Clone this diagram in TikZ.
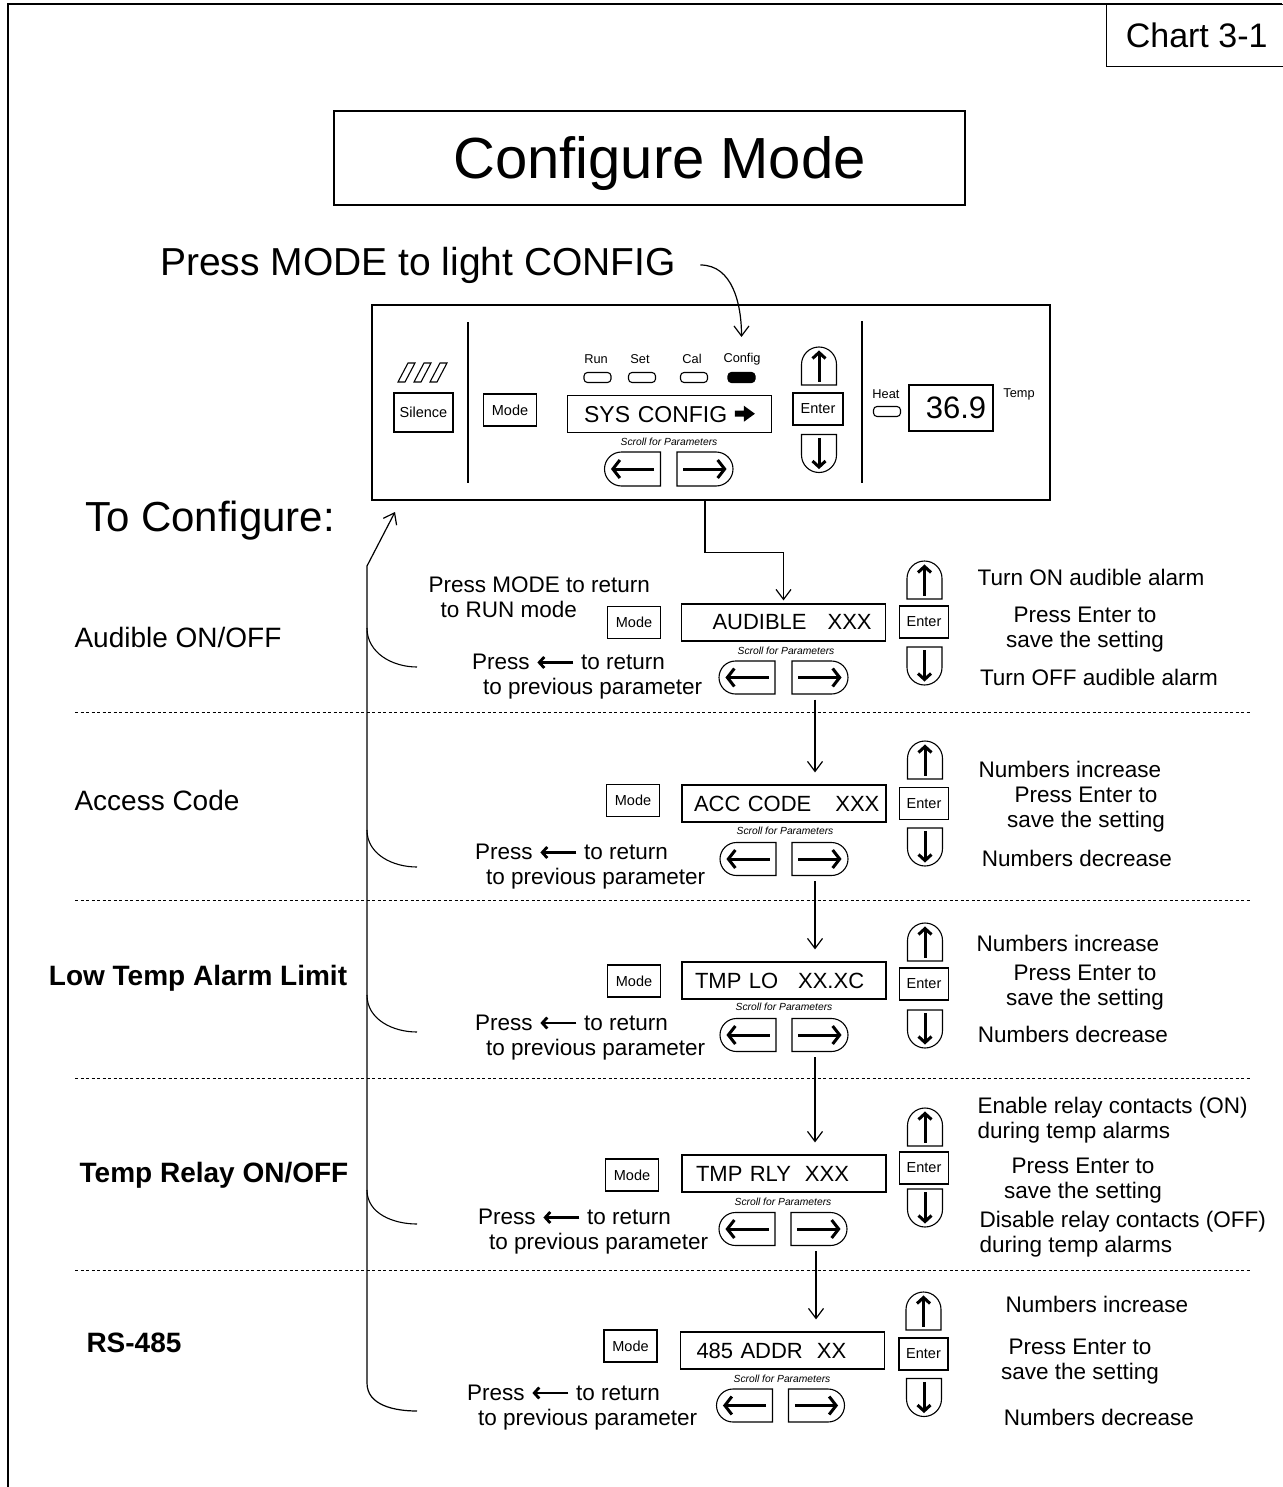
\documentclass[tikz,border=0pt]{standalone}
\usepackage{fontspec}
\setmainfont{Liberation Sans}
\usetikzlibrary{
    arrows.meta,
    positioning,
    shapes.misc,
    calc
}

% thick arrow inside the "Press <- to return" notes
\newcommand{\backarrow}{\tikz[baseline=-0.33em]\draw[line width=2.8pt,-{Straight Barb[length=5pt,width=11pt]}] (36pt,0pt) -- (0pt,0pt);}
% solid arrow after SYS CONFIG
\newcommand{\sysarrow}{\tikz[baseline=-0.36em]\fill (0pt,-3pt) -- (9pt,-3pt) -- (9pt,-8pt) -- (20pt,0pt) -- (9pt,8pt) -- (9pt,3pt) -- (0pt,3pt) -- cycle;}

\begin{document}
\begin{tikzpicture}[
        x=1pt, y=-1pt, line width=1.1pt,
        keybox/.style={draw, inner sep=0pt, font=\fontsize{14.5}{16}\selectfont},
        modekey/.style={keybox, minimum width=53pt, minimum height=32pt},
        enterkey/.style={keybox, minimum width=49pt, minimum height=32pt},
        display/.style={draw, line width=1.2pt, minimum width=204pt, minimum height=37pt, inner xsep=2pt, inner ysep=0pt, text width=200pt, align=left, font=\fontsize{22}{24}\selectfont},
        scroll/.style={inner sep=0pt, font=\fontsize{10.3}{12}\selectfont\itshape},
        lkey/.style={draw, rounded rectangle, rounded rectangle east arc=none, minimum width=56pt, minimum height=33pt, inner sep=0pt},
        rkey/.style={draw, rounded rectangle, rounded rectangle west arc=none, minimum width=56pt, minimum height=33pt, inner sep=0pt},
        ukey/.style={draw, rounded rectangle, rounded rectangle west arc=none, rotate=90, minimum width=38pt, minimum height=35pt, inner sep=0pt},
        dkey/.style={draw, rounded rectangle, rounded rectangle east arc=none, rotate=90, minimum width=38pt, minimum height=35pt, inner sep=0pt},
        harrow/.style={line width=3pt, -{Straight Barb[length=7pt,width=18pt]}, shorten <=7pt, shorten >=7pt},
        varrow/.style={line width=3pt, -{Straight Barb[length=6pt,width=13pt]}, shorten <=4pt, shorten >=4pt},
        led/.style={draw, rounded corners=3.5pt, minimum width=27pt, minimum height=10pt, inner sep=0pt},
        ledlabel/.style={inner sep=0pt, font=\fontsize{12.8}{14}\selectfont},
        note/.style={inner sep=0pt, align=center, font=\fontsize{22.5}{25}\selectfont},
        rowlabel/.style={inner sep=0pt, font=\fontsize{28}{30}\selectfont},
        flow/.style={line width=1.2pt, -{Straight Barb[length=10pt,width=15pt]}},
        sepline/.style={line width=1pt, dash pattern=on 3pt off 2.5pt}
    ]
        \useasboundingbox (0,0) rectangle (1282,1487);

        % Page frame and tag
        \draw[line width=1.3pt] (8,1487) -- (8,4) -- (1282,4);
        \node[draw, line width=1.3pt, anchor=north west, minimum width=180pt, minimum height=62pt, inner sep=0pt, font=\fontsize{34}{36}\selectfont] (chart) at (1106,4) {Chart 3-1};

        % Title
        \node[draw, minimum width=631pt, minimum height=94pt, text depth=2pt, font=\fontsize{58}{60}\selectfont] (title) at (649.5,158) {\hspace*{20pt}Configure Mode};
        \node[inner sep=0pt, font=\fontsize{39}{40}\selectfont] (lighttext) at (418,265) {Press MODE to light CONFIG};
        \node[inner sep=0pt, font=\fontsize{42}{44}\selectfont] (toconf) at (210,521) {To Configure:};

        % Front panel
        \node[draw, line width=1.5pt, minimum width=678pt, minimum height=195pt] (panel) at (711,402.5) {};
        \draw (468,322) -- (468,483);
        \draw (862,321) -- (862,483);
        \draw (398,382) -- ++(7,0) -- ++(10,-19) -- ++(-7,0) -- cycle;
        \draw (414,382) -- ++(7,0) -- ++(10,-19) -- ++(-7,0) -- cycle;
        \draw (430,382) -- ++(7,0) -- ++(10,-19) -- ++(-7,0) -- cycle;
        \node[modekey, minimum width=59pt, minimum height=39pt] (silence) at (423.5,412.5) {Silence};
        \node[modekey] (pmode) at (510,410) {Mode};

        \node[ledlabel] (runlbl) at (596,359) {Run};
        \node[led] (runled) at (597.5,377.5) {};
        \node[ledlabel] (setlbl) at (640,359) {Set};
        \node[led] (setled) at (642,377.5) {};
        \node[ledlabel] (callbl) at (692,359) {Cal};
        \node[led] (called) at (694,377.5) {};
        \node[ledlabel] (cfglbl) at (742,359) {Config};
        \node[led, fill=black] (cfgled) at (741.5,377.5) {};

        \node[display, align=center, font=\fontsize{23}{24}\selectfont] (sysdisp) at (669.5,414) {SYS CONFIG \sysarrow};
        \node[scroll] (pscroll) at (669,442) {Scroll for Parameters};
        \node[lkey, minimum height=34pt] (plk) at (632.5,469) {};
        \node[rkey, minimum height=34pt] (prk) at (705,469) {};
        \node[ukey] (puk) at (819,366) {};
        \node[enterkey, minimum width=50pt] (penter) at (818,409) {Enter};
        \node[dkey] (pdk) at (819,453.5) {};

        \node[ledlabel] (heatlbl) at (886,394) {Heat};
        \node[led] (heatled) at (887,411.5) {};
        \node[draw, line width=1.2pt, minimum width=84pt, minimum height=46pt, inner sep=0pt, font=\fontsize{31}{32}\selectfont] (tempdisp) at (951,408) {\hspace*{10pt}36.9};
        \node[ledlabel] (templbl) at (1019,394) {Temp};

        \draw[harrow] (plk.east) -- (plk.west);
        \draw[harrow] (prk.west) -- (prk.east);
        \draw[varrow] (puk.west) -- (puk.east);
        \draw[varrow] (pdk.east) -- (pdk.west);

        % Audible ON/OFF
        \node[rowlabel] (audlbl) at (178,637) {Audible ON/OFF};
        \node[note, align=left, anchor=west] (modenote) at (428,597) {Press MODE to return\\\hspace*{12pt}to RUN mode};
        \node[modekey] (mode1) at (634,622.5) {Mode};
        \node[display] (disp1) at (783.5,622.5) {\mbox{\hspace*{29pt}AUDIBLE\hspace{21pt}XXX}};
        \node[scroll] (scroll1) at (786,651) {Scroll for Parameters};
        \node[lkey] (lk1) at (747,677.5) {};
        \node[rkey] (rk1) at (820,677.5) {};
        \node[ukey] (uk1) at (924.5,580) {};
        \node[enterkey] (enter1) at (924,622) {Enter};
        \node[dkey] (dk1) at (924.5,666) {};
        \node[note] (on1) at (1091,577) {Turn ON audible alarm};
        \node[note] (save1) at (1085,630) {Press Enter to\\save the setting};
        \node[note] (off1) at (1099,677) {Turn OFF audible alarm};
        \node[note, align=left, anchor=west] (back1) at (472,677) {Press \backarrow{} to return\\\hspace*{11pt}to previous parameter};
        \draw[harrow] (lk1.east) -- (lk1.west);
        \draw[harrow] (rk1.west) -- (rk1.east);
        \draw[varrow] (uk1.west) -- (uk1.east);
        \draw[varrow] (dk1.east) -- (dk1.west);
        \draw[sepline] (75,712) -- (1250,712);

        % Access Code
        \node[rowlabel] (acclbl) at (157,800) {Access Code};
        \node[modekey] (mode2) at (633,800.5) {Mode};
        \node[display] (disp2) at (784,803.5) {\mbox{\hspace*{10pt}ACC CODE\hspace{24pt}XXX}};
        \node[scroll] (scroll2) at (785,831) {Scroll for Parameters};
        \node[lkey] (lk2) at (748,859) {};
        \node[rkey] (rk2) at (820,859) {};
        \node[ukey] (uk2) at (925,760) {};
        \node[enterkey] (enter2) at (924,803.5) {Enter};
        \node[dkey] (dk2) at (925,847) {};
        \node[note] (inc2) at (1070,769) {Numbers increase};
        \node[note] (save2) at (1086,810) {Press Enter to\\save the setting};
        \node[note] (dec2) at (1077,858) {Numbers decrease};
        \node[note, align=left, anchor=west] (back2) at (475,867) {Press \backarrow{} to return\\\hspace*{11pt}to previous parameter};
        \draw[harrow] (lk2.east) -- (lk2.west);
        \draw[harrow] (rk2.west) -- (rk2.east);
        \draw[varrow] (uk2.west) -- (uk2.east);
        \draw[varrow] (dk2.east) -- (dk2.west);
        \draw[sepline] (75,900) -- (1250,900);

        % Low Temp Alarm Limit
        \node[rowlabel, font=\fontsize{28}{30}\selectfont\bfseries] (lolbl) at (198,978) {Low Temp Alarm Limit};
        \node[modekey] (mode3) at (634,981) {Mode};
        \node[display] (disp3) at (784,980.5) {\mbox{\hspace*{11pt}TMP LO\hspace{20pt}XX.XC}};
        \node[scroll] (scroll3) at (784,1007) {Scroll for Parameters};
        \node[lkey] (lk3) at (748,1035) {};
        \node[rkey] (rk3) at (820,1035) {};
        \node[ukey] (uk3) at (925,942) {};
        \node[enterkey] (enter3) at (924,984) {Enter};
        \node[dkey] (dk3) at (925,1029) {};
        \node[note] (inc3) at (1068,943) {Numbers increase};
        \node[note] (save3) at (1085,988) {Press Enter to\\save the setting};
        \node[note] (dec3) at (1073,1034) {Numbers decrease};
        \node[note, align=left, anchor=west] (back3) at (475,1037.5) {Press \backarrow{} to return\\\hspace*{11pt}to previous parameter};
        \draw[harrow] (lk3.east) -- (lk3.west);
        \draw[harrow] (rk3.west) -- (rk3.east);
        \draw[varrow] (uk3.west) -- (uk3.east);
        \draw[varrow] (dk3.east) -- (dk3.west);
        \draw[sepline] (75,1078) -- (1250,1078);

        % Temp Relay ON/OFF
        \node[rowlabel, font=\fontsize{28}{30}\selectfont\bfseries] (rlylbl) at (214,1175) {Temp Relay ON/OFF};
        \node[modekey] (mode4) at (632,1175) {Mode};
        \node[display] (disp4) at (784,1173.5) {\mbox{\hspace*{12pt}TMP RLY\hspace{14pt}XXX}};
        \node[scroll] (scroll4) at (783,1202) {Scroll for Parameters};
        \node[lkey] (lk4) at (747,1229) {};
        \node[rkey] (rk4) at (819,1229) {};
        \node[ukey] (uk4) at (925,1127) {};
        \node[enterkey] (enter4) at (924,1168) {Enter};
        \node[dkey] (dk4) at (925,1208) {};
        \node[note, align=left, anchor=west] (en4) at (977,1120) {Enable relay contacts (ON)\\during temp alarms};
        \node[note] (save4) at (1083,1181) {Press Enter to\\save the setting};
        \node[note, align=left, anchor=west] (dis4) at (979,1234.5) {Disable relay contacts (OFF)\\during temp alarms};
        \node[note, align=left, anchor=west] (back4) at (478,1232) {Press \backarrow{} to return\\\hspace*{11pt}to previous parameter};
        \draw[harrow] (lk4.east) -- (lk4.west);
        \draw[harrow] (rk4.west) -- (rk4.east);
        \draw[varrow] (uk4.west) -- (uk4.east);
        \draw[varrow] (dk4.east) -- (dk4.west);
        \draw[sepline] (75,1270) -- (1250,1270);

        % RS-485
        \node[rowlabel, font=\fontsize{28}{30}\selectfont\bfseries] (rslbl) at (134,1343) {RS-485};
        \node[modekey] (mode5) at (630.5,1346) {Mode};
        \node[display] (disp5) at (782.5,1350.5) {\mbox{\hspace*{14pt}485 ADDR\hspace{14pt}XX}};
        \node[scroll] (scroll5) at (782,1379) {Scroll for Parameters};
        \node[lkey] (lk5) at (744.5,1405.5) {};
        \node[rkey] (rk5) at (816.5,1405.5) {};
        \node[ukey] (uk5) at (923.5,1311) {};
        \node[enterkey] (enter5) at (923.5,1354) {Enter};
        \node[dkey] (dk5) at (924,1397.5) {};
        \node[note] (inc5) at (1097,1304) {Numbers increase};
        \node[note] (save5) at (1080,1362) {Press Enter to\\save the setting};
        \node[note] (dec5) at (1099,1417) {Numbers decrease};
        \node[note, align=left, anchor=west] (back5) at (467,1407.5) {Press \backarrow{} to return\\\hspace*{11pt}to previous parameter};
        \draw[harrow] (lk5.east) -- (lk5.west);
        \draw[harrow] (rk5.west) -- (rk5.east);
        \draw[varrow] (uk5.west) -- (uk5.east);
        \draw[varrow] (dk5.east) -- (dk5.west);

        % Flow down the parameters
        \coordinate (lightstart) at ([xshift=24pt]lighttext.east);
        \draw[flow] (lightstart) to[out=0, in=90] ([yshift=35pt]cfgled.north);
        \draw[flow, shorten >=3pt] (prk.south |- panel.south) -- ++(0,52) -| (disp1.north);
        \draw[flow, shorten <=5pt, shorten >=12pt] ([xshift=-5pt]rk1.south) -- ([xshift=-5pt]rk1.south |- disp2.north);
        \draw[flow, shorten <=5pt, shorten >=12pt] ([xshift=-5pt]rk2.south) -- ([xshift=-5pt]rk2.south |- disp3.north);
        \draw[flow, shorten <=5pt, shorten >=12pt] ([xshift=-5pt]rk3.south) -- ([xshift=-5pt]rk3.south |- disp4.north);
        \draw[flow, shorten <=5pt, shorten >=12pt] ([xshift=-3pt]rk4.south) -- ([xshift=-3pt]rk4.south |- disp5.north);

        % Return path to the panel
        \coordinate (railtop) at (367,566);
        \coordinate (railtip) at (395,512);
        \coordinate (rail1) at (367,628);
        \coordinate (rail2) at (367,830);
        \coordinate (rail3) at (367,995);
        \coordinate (rail4) at (367,1190);
        \coordinate (rail5) at (367,1383);
        \coordinate (end1) at (417,667);
        \coordinate (end2) at (417,867);
        \coordinate (end3) at (417,1032);
        \coordinate (end4) at (417,1224);
        \coordinate (end5) at (417,1411);
        \draw[flow] (end5) to[out=180, in=-90] (rail5) -- (railtop) -- (railtip);
        \draw (rail1) to[out=-90, in=180] (end1);
        \draw (rail2) to[out=-90, in=180] (end2);
        \draw (rail3) to[out=-90, in=180] (end3);
        \draw (rail4) to[out=-90, in=180] (end4);
    \end{tikzpicture}
\end{document}
